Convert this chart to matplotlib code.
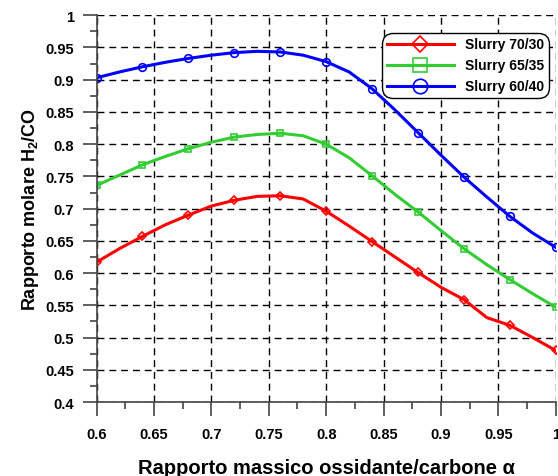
import numpy as np
import matplotlib
matplotlib.use("Agg")
import matplotlib.pyplot as plt
from matplotlib.ticker import MultipleLocator

plt.rcParams["font.family"] = ["Liberation Sans", "DejaVu Sans"]
plt.rcParams["font.weight"] = "bold"
plt.rcParams["mathtext.fontset"] = "custom"
plt.rcParams["mathtext.rm"] = "Liberation Sans:bold"
plt.rcParams["mathtext.it"] = "Liberation Sans:bold"
plt.rcParams["mathtext.bf"] = "Liberation Sans:bold"

alpha = [0.60, 0.62, 0.64, 0.66, 0.68, 0.70, 0.72, 0.74, 0.76, 0.78, 0.80,
         0.82, 0.84, 0.86, 0.88, 0.90, 0.92, 0.94, 0.96, 0.98, 1.00]

slurry_70_30 = [0.617, 0.638, 0.657, 0.675, 0.690, 0.704, 0.713, 0.719, 0.720,
                0.715, 0.696, 0.673, 0.649, 0.625, 0.601, 0.578, 0.559, 0.531,
                0.519, 0.500, 0.480]
slurry_65_35 = [0.736, 0.752, 0.768, 0.781, 0.793, 0.803, 0.811, 0.815, 0.817,
                0.813, 0.800, 0.779, 0.751, 0.722, 0.695, 0.666, 0.638, 0.613,
                0.590, 0.568, 0.547]
slurry_60_40 = [0.903, 0.912, 0.920, 0.927, 0.933, 0.938, 0.942, 0.944, 0.943,
                0.938, 0.928, 0.912, 0.886, 0.853, 0.818, 0.783, 0.749, 0.718,
                0.688, 0.662, 0.640]

series = [
    ("Slurry 70/30", slurry_70_30, "#ff0000", "D", 4.5),
    ("Slurry 65/35", slurry_65_35, "#33cc33", "s", 5),
    ("Slurry 60/40", slurry_60_40, "#0000ff", "o", 5.5),
]

fig = plt.figure(figsize=(5.58, 4.77), dpi=100)
ax = fig.add_axes([0.173, 0.155, 0.823, 0.811])

for name, vals, col, mk, ms in series:
    ax.plot(alpha, vals, color=col, lw=2.2, marker=mk, markevery=2,
            markersize=ms, markerfacecolor="none",
            markeredgecolor=col, markeredgewidth=1.2, label=name)

ax.set_xlim(0.6, 1.0)
ax.set_ylim(0.4, 1.0)
ax.xaxis.set_major_locator(MultipleLocator(0.05))
ax.xaxis.set_minor_locator(MultipleLocator(0.025))
ax.yaxis.set_major_locator(MultipleLocator(0.05))
ax.yaxis.set_minor_locator(MultipleLocator(0.025))
ax.xaxis.set_major_formatter(lambda v, p: f"{v:g}")
ax.yaxis.set_major_formatter(lambda v, p: f"{v:g}")

ax.grid(True, which="major", color="black", ls=(0, (5, 3.5)), lw=1.0)
ax.spines["top"].set_visible(False)
ax.spines["right"].set_visible(False)
for s in ("left", "bottom"):
    ax.spines[s].set_color("#444444")
    ax.spines[s].set_linewidth(1.2)
ax.tick_params(which="major", direction="out", length=10, width=1.2,
               color="#444444", labelsize=10.5)
ax.tick_params(which="minor", direction="out", length=5, width=1.2,
               color="#444444")
ax.tick_params(axis="x", which="major", pad=8)
ax.tick_params(axis="y", which="major", pad=6)

ax.set_xlabel("Rapporto massico ossidante/carbone α", fontsize=14.5,
              fontweight="bold", labelpad=12)
ax.set_ylabel("Rapporto molare H$_2$/CO", fontsize=13, fontweight="bold",
              labelpad=3)

leg = ax.legend(loc="upper right", bbox_to_anchor=(0.985, 0.955), fontsize=10,
                frameon=True, fancybox=True, edgecolor="black",
                markerscale=1.9, handlelength=4.8, borderpad=0.35,
                labelspacing=0.5, handletextpad=0.8, borderaxespad=0)
leg.get_frame().set_linewidth(1.0)
leg.get_frame().set_alpha(1)
leg.get_frame().set_boxstyle("round", pad=0, rounding_size=0.8)

fig.savefig("out.png", dpi=100)
